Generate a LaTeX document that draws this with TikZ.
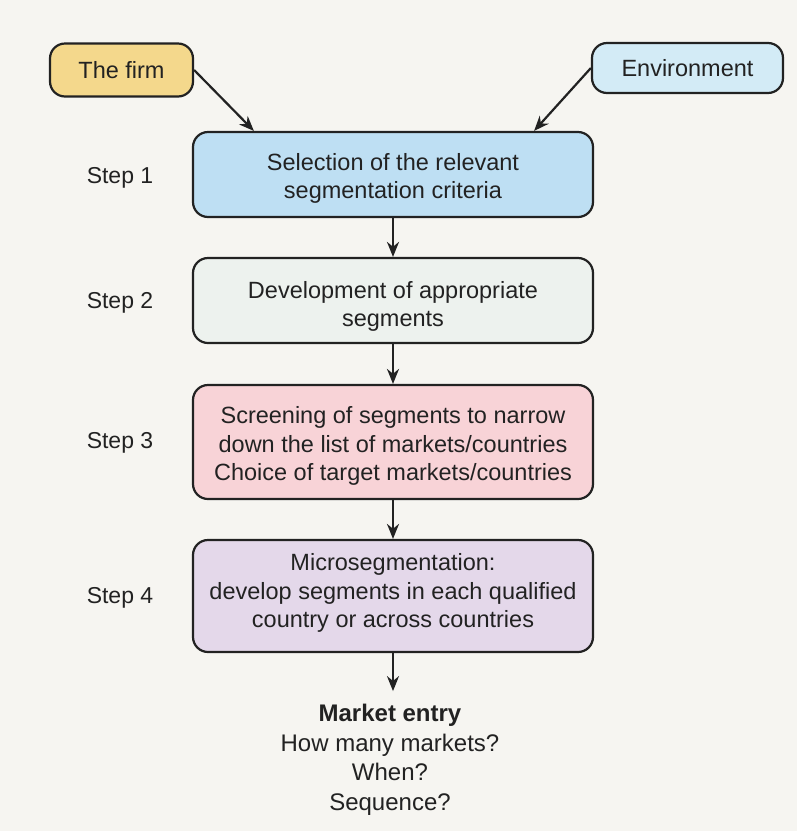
\documentclass[tikz,border=0pt]{standalone}
\usepackage{fontspec}
\setmainfont{Liberation Sans}
\usetikzlibrary{arrows.meta,calc}
\definecolor{paper}{HTML}{F6F5F1}
\definecolor{ink}{HTML}{222222}
\definecolor{firmfill}{HTML}{F4D88C}
\definecolor{envfill}{HTML}{D3EBF6}
\definecolor{onefill}{HTML}{BEDFF3}
\definecolor{twofill}{HTML}{EDF2EE}
\definecolor{threefill}{HTML}{F8D3D7}
\definecolor{fourfill}{HTML}{E4D8EA}
\tikzset{
  box/.style={draw=ink, line width=2.2pt, rounded corners=15pt, align=center,
    text=ink, font=\fontsize{23.5}{28.5}\selectfont, inner sep=0pt},
  stepbox/.style={box, minimum width=400pt},
  boxtext/.style={align=center, text=ink, font=\fontsize{23.5}{28.5}\selectfont,
    inner sep=0pt, yshift=-#1},
  boxtext/.default=0pt,
  steplabel/.style={text=ink, font=\fontsize{23}{28.5}\selectfont},
  flow/.style={draw=ink, line width=2.2pt, -{Stealth[length=15pt,width=12pt]}}
}
\begin{document}
\begin{tikzpicture}[x=1pt,y=-1pt]
  % page
  \fill[paper] (0,0) rectangle (797,831);
  \useasboundingbox (0,0) rectangle (797,831);

  % inputs
  \node[box, fill=firmfill, minimum width=143pt, minimum height=53pt] (firm) at (121.5,70) {The firm};
  \node[box, fill=envfill, minimum width=191pt, minimum height=50pt] (env) at (687.5,68) {Environment};

  % the four steps
  \node[stepbox, fill=onefill, minimum height=85pt,
    label={[boxtext=4pt]center:{Selection of the relevant\\segmentation criteria}}] (s1) at (393,174.5) {};
  \node[stepbox, fill=twofill, minimum height=85pt,
    label={[boxtext=6pt]center:{Development of appropriate\\segments}}] (s2) at (393,300.5) {};
  \node[stepbox, fill=threefill, minimum height=114pt,
    label={[boxtext=4pt]center:{Screening of segments to narrow\\down the list of markets/countries\\Choice of target markets/countries}}] (s3) at (393,442) {};
  \node[stepbox, fill=fourfill, minimum height=112pt,
    label={[boxtext=-3pt]center:{Microsegmentation:\\develop segments in each qualified\\country or across countries}}] (s4) at (393,596) {};

  % step labels
  \node[steplabel] (l1) at (120,178) {Step 1};
  \node[steplabel] (l2) at (120,303) {Step 2};
  \node[steplabel] (l3) at (120,443) {Step 3};
  \node[steplabel] (l4) at (120,598) {Step 4};

  % outcome
  \node[align=center, text=ink, font=\fontsize{24}{29.5}\selectfont, inner sep=0pt]
    (entry) at (390,760) {\textbf{Market entry}\\How many markets?\\When?\\Sequence?};

  % connectors
  \coordinate (firmin) at ($(s1.north west)+(62,0)$);
  \coordinate (envin) at ($(s1.north east)+(-60,0)$);
  \draw[flow] (firm.east) -- (firmin);
  \draw[flow] (env.west) -- (envin);
  \draw[flow] (s1.south) -- (s2.north);
  \draw[flow] (s2.south) -- (s3.north);
  \draw[flow] (s3.south) -- (s4.north);
  \draw[flow] (s4.south) -- ($(s4.south)+(0,38)$) coordinate (entrytop);
\end{tikzpicture}
\end{document}
